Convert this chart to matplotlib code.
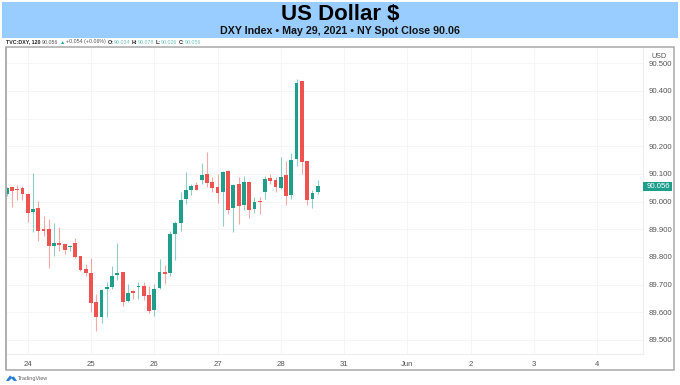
import matplotlib
matplotlib.use('Agg')
import matplotlib.pyplot as plt
from matplotlib.patches import Rectangle, Polygon

plt.rcParams['font.family'] = ['Liberation Sans', 'DejaVu Sans']

W, H = 680, 385

## candle values, one list per field (120 minute bars)
opens = [90.028, 90.051, 90.045, 90.048, 90.027, 89.961, 89.977, 89.899, 89.899, 89.840,
         89.849, 89.846, 89.834, 89.851, 89.802, 89.757, 89.742, 89.638, 89.581, 89.683,
         89.690, 89.733, 89.745, 89.641, 89.675, 89.692, 89.696, 89.662, 89.607, 89.688,
         89.746, 89.742, 89.884, 89.923, 90.008, 90.042, 90.060, 90.077, 90.099, 90.070,
         90.053, 90.035, 90.111, 89.976, 90.064, 89.987, 90.072, 89.972, 90.003, 90.034,
         90.084, 90.078, 90.049, 90.095, 90.022, 90.154, 90.434, 90.145, 90.010, 90.034]
highs = [90.052, 90.053, 90.061, 90.058, 90.030, 90.102, 90.001, 89.949, 89.937, 89.922,
         89.908, 89.847, 89.843, 89.869, 89.803, 89.773, 89.797, 89.667, 89.685, 89.709,
         89.768, 89.851, 89.747, 89.701, 89.682, 89.709, 89.709, 89.693, 89.703, 89.791,
         89.772, 89.893, 89.930, 90.036, 90.108, 90.062, 90.070, 90.139, 90.178, 90.088,
         90.100, 90.110, 90.113, 90.064, 90.090, 90.091, 90.076, 90.016, 90.018, 90.094,
         90.100, 90.088, 90.160, 90.148, 90.174, 90.442, 90.436, 90.147, 90.042, 90.078]
lows = [90.020, 89.982, 90.004, 90.006, 89.925, 89.889, 89.859, 89.877, 89.761, 89.802,
        89.823, 89.811, 89.821, 89.797, 89.749, 89.731, 89.601, 89.533, 89.562, 89.583,
        89.685, 89.715, 89.622, 89.637, 89.649, 89.646, 89.643, 89.598, 89.585, 89.685,
        89.703, 89.731, 89.787, 89.892, 89.992, 90.022, 90.040, 90.064, 90.052, 90.034,
        89.994, 89.911, 89.956, 89.890, 89.920, 89.968, 89.941, 89.958, 89.956, 90.010,
        90.064, 90.034, 90.046, 89.988, 90.010, 90.130, 90.100, 89.988, 89.977, 90.026]
closes = [90.049, 90.039, 90.041, 90.026, 89.958, 89.973, 89.895, 89.894, 89.838, 89.851,
          89.843, 89.826, 89.839, 89.799, 89.751, 89.743, 89.635, 89.581, 89.682, 89.691,
          89.731, 89.741, 89.637, 89.668, 89.669, 89.696, 89.659, 89.604, 89.683, 89.745,
          89.738, 89.881, 89.922, 90.004, 90.040, 90.056, 90.043, 90.096, 90.066, 90.049,
          90.030, 90.107, 89.970, 90.060, 89.984, 90.069, 89.970, 89.999, 89.999, 90.081,
          90.076, 90.054, 90.090, 90.019, 90.150, 90.430, 90.142, 90.007, 90.030, 90.056]

price_ticks = [89.5, 89.6, 89.7, 89.8, 89.9, 90.0, 90.1, 90.2, 90.3, 90.4, 90.5]
day_pos = [4, 16, 28, 40, 52, 64, 76, 88, 100, 112]
day_labels = ['24', '25', '26', '27', '28', '31', 'Jun', '2', '3', '4']
last_price = 90.056

UP = '#1f9e8c'
DOWN = '#ef5350'
TXT = '#555555'

fig = plt.figure(figsize=(W / 100, H / 100), dpi=100, facecolor='white')

# pixel helper for layout only
def px_box(x0, y0, x1, y1):
    return [x0 / W, 1 - y1 / H, (x1 - x0) / W, (y1 - y0) / H]

# header band
fig.patches.append(Rectangle((2 / W, 1 - 38 / H), 676 / W, 36 / H, transform=fig.transFigure,
                             facecolor='#99ccff', edgecolor='none', zorder=-2))
fig.text(0.5, 1 - 14 / H, 'US Dollar $', ha='center', va='center', fontsize=16,
         fontweight='bold', color='black')
fig.text(0.5, 1 - 31.5 / H, 'DXY Index \u2022 May 29, 2021 \u2022 NY Spot Close 90.06', ha='center',
         va='center', fontsize=7.7, fontweight='bold', color='#111111')

# legend row above the chart
row = [(6, 'TVC:DXY, 120', '#222222', 'bold'), (42, '90.056', TXT, 'normal'),
       (60, '\u25b2', UP, 'normal'), (66, '+0.054 (+0.06%)', TXT, 'normal'),
       (108, 'O:', '#222222', 'bold'), (114, '90.034', '#6fc4b8', 'normal'),
       (132, 'H:', '#222222', 'bold'), (138, '90.078', '#6fc4b8', 'normal'),
       (156, 'L:', '#222222', 'bold'), (161, '90.026', '#6fc4b8', 'normal'),
       (179, 'C:', '#222222', 'bold'), (185, '90.056', '#6fc4b8', 'normal')]
for x, s, c, w in row:
    fig.text(x / W, 1 - 42 / H, s, ha='left', va='center', fontsize=3.8, color=c, fontweight=w)

# outer frame of the chart, left edge is heavier
fig.patches.append(Rectangle((6 / W, 1 - 370 / H), 668 / W, 323 / H, transform=fig.transFigure,
                             facecolor='white', edgecolor='#a8a8a8', linewidth=1.1, zorder=-1))
fig.patches.append(Rectangle((5 / W, 1 - 370 / H), 2 / W, 323 / H, transform=fig.transFigure,
                             facecolor='#b0b0b0', edgecolor='none', zorder=-1))

ax = fig.add_axes(px_box(7, 48, 643, 354))
ax.patch.set_alpha(0)
ax.set_xlim(0.06, 120.72)
ax.set_ylim(89.449, 90.555)

ax.set_yticks(price_ticks)
ax.set_yticklabels(['%.3f' % p for p in price_ticks])
ax.yaxis.tick_right()
ax.set_xticks(day_pos)
ax.set_xticklabels(day_labels)
ax.tick_params(length=0, labelsize=5.6, labelcolor=TXT)
ax.tick_params(axis='x', pad=5)
ax.tick_params(axis='y', pad=4)
ax.grid(True, color='#f5f5f5', linewidth=0.7)
ax.set_axisbelow(True)
for side in ['top', 'left']:
    ax.spines[side].set_visible(False)
ax.spines['right'].set_color('#ededed')
ax.spines['bottom'].set_color('#ededed')
ax.spines['right'].set_linewidth(0.8)
ax.spines['bottom'].set_linewidth(0.8)

# candles
for i, (o, h, l, c) in enumerate(zip(opens, highs, lows, closes)):
    col = UP if c >= o else DOWN
    ax.vlines(i, l, h, color=col, linewidth=0.8, alpha=0.5, zorder=2)
    ax.bar(i, abs(c - o), bottom=min(o, c), width=0.72, color=col, linewidth=0, zorder=3)

# price labels outside the plot area
trans = ax.get_yaxis_transform()
ax.text(1.0 + 16 / 636, 90.524, 'USD', transform=trans, ha='center', va='center', fontsize=5.2,
        color=TXT, clip_on=False)
tag = Rectangle((1.0, last_price - 0.0162), 29 / 636, 0.0324, transform=trans, facecolor=UP,
                edgecolor='none', clip_on=False, zorder=5)
ax.add_patch(tag)
ax.text(1.0 + 15.5 / 636, last_price, '%.3f' % last_price, transform=trans, ha='center', va='center',
        fontsize=5.6, color='white', zorder=6, clip_on=False)

# TradingView mark
cloud = Polygon([(6, 381), (8, 378), (10, 375.5), (12, 377), (14, 376.5), (17, 381), (14, 381),
                 (11.5, 378.5), (9, 381)],
                closed=True, facecolor='#2a7fd5', edgecolor='none')
cloud.set_xy([(x / W, 1 - y / H) for x, y in cloud.get_xy()])
cloud.set_transform(fig.transFigure)
fig.patches.append(cloud)
fig.text(18 / W, 1 - 378.5 / H, 'TradingView', ha='left', va='center', fontsize=4, color='#666666')

fig.savefig('out.png', dpi=100)
